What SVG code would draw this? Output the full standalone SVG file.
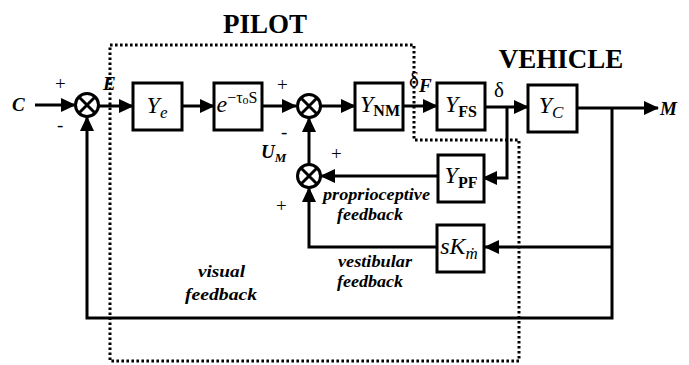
<svg xmlns="http://www.w3.org/2000/svg" width="689" height="365" viewBox="0 0 689 365" font-family="'Liberation Serif', 'Times New Roman', serif">
<style>
.box{fill:#fff;stroke:#000;stroke-width:3}
.ln{fill:none;stroke:#000;stroke-width:3}
.arr{fill:none;stroke:#000;stroke-width:3;marker-end:url(#ah)}
.sum{fill:#fff;stroke:#000;stroke-width:3}
.dot{fill:none;stroke:#000;stroke-width:3;stroke-dasharray:2.6 2.4}
.t{font-size:27px;font-weight:bold}
.lab{font-size:19px;font-style:italic;font-weight:bold}
.pm{font-size:19px}
.bl{font-size:24px;font-style:italic}
.sub{font-size:16px;font-weight:bold;font-style:normal}
.subi{font-size:17px;font-style:italic}
.note{font-size:16px;font-style:italic;font-weight:bold}
</style>
<defs>
<marker id="ah" markerUnits="userSpaceOnUse" markerWidth="15" markerHeight="14" refX="14" refY="7" orient="auto">
<path d="M0,0 L15,7 L0,14 z" fill="#000"/>
</marker>
</defs>

<g id="pilot-boundary">
<path class="dot" d="M110,45 H414 V140 H519 V361 H110 Z"/>
<text class="t" x="265" y="33" text-anchor="middle">PILOT</text>
</g>
<text class="t" x="561" y="68" text-anchor="middle" id="vehicle-label">VEHICLE</text>

<g id="connectors">
<line class="arr" x1="35" y1="105" x2="75" y2="105"/>
<line class="arr" x1="99" y1="106" x2="133" y2="106"/>
<line class="arr" x1="182" y1="106" x2="214" y2="106"/>
<line class="arr" x1="262" y1="106" x2="296" y2="106"/>
<line class="arr" x1="320" y1="106" x2="355" y2="106"/>
<line class="arr" x1="403" y1="106" x2="437" y2="106"/>
<line class="arr" x1="485" y1="107" x2="528" y2="107"/>
<polyline class="arr" points="507,107 507,178 483,178"/>
<line class="arr" x1="577" y1="108" x2="658" y2="108"/>
<polyline class="arr" points="612,108 612,318 87,318 87,117"/>
<line class="arr" x1="612" y1="247" x2="485" y2="247"/>
<line class="arr" x1="438" y1="176" x2="321" y2="176"/>
<polyline class="arr" points="437,247 309,247 309,188"/>
<line class="arr" x1="309" y1="164" x2="309" y2="118"/>
</g>

<g id="sum1">
<circle class="sum" cx="87" cy="105" r="11.5"/>
<path class="ln" d="M79,97 L95,113 M95,97 L79,113" stroke-width="2.5"/>
</g>
<g id="sum2">
<circle class="sum" cx="309" cy="106" r="11.5"/>
<path class="ln" d="M301,98 L317,114 M317,98 L301,114" stroke-width="2.5"/>
</g>
<g id="sum3">
<circle class="sum" cx="309" cy="176" r="11.5"/>
<path class="ln" d="M301,168 L317,184 M317,168 L301,184" stroke-width="2.5"/>
</g>

<g id="Ye">
<rect class="box" x="133" y="83" width="49" height="47"/>
<text class="bl" x="157" y="113" text-anchor="middle">Y<tspan class="subi" dy="5">e</tspan></text>
</g>
<g id="delay">
<rect class="box" x="214" y="83" width="48" height="47"/>
<text x="237" y="112" text-anchor="middle"><tspan class="bl" font-size="23">e</tspan><tspan font-size="16" dy="-9">−τ</tspan><tspan font-size="12" dy="1">o</tspan><tspan font-size="16" dy="-1">S</tspan></text>
</g>
<g id="YNM">
<rect class="box" x="355" y="83" width="48" height="47"/>
<text class="bl" x="380" y="112" text-anchor="middle">Y<tspan class="sub" dy="4">NM</tspan></text>
</g>
<g id="YFS">
<rect class="box" x="437" y="83" width="48" height="47"/>
<text class="bl" x="461" y="112" text-anchor="middle">Y<tspan class="sub" dy="5">FS</tspan></text>
</g>
<g id="YC">
<rect class="box" x="528" y="85" width="49" height="47"/>
<text class="bl" x="551" y="113" text-anchor="middle">Y<tspan class="subi" dy="5">C</tspan></text>
</g>
<g id="YPF">
<rect class="box" x="438" y="155" width="46" height="47"/>
<text class="bl" x="461" y="183" text-anchor="middle">Y<tspan class="sub" dy="5">PF</tspan></text>
</g>
<g id="sK">
<rect class="box" x="437" y="225" width="47" height="47"/>
<text class="bl" x="459" y="254" text-anchor="middle" font-size="23">sK<tspan class="subi" dy="5">ṁ</tspan></text>
</g>

<g id="labels">
<text class="lab" x="12" y="111">C</text>
<text class="pm" x="55" y="90">+</text>
<text class="pm" x="57" y="131">-</text>
<text class="lab" x="103" y="90">E</text>
<text class="pm" x="277" y="91">+</text>
<text class="pm" x="281" y="138">-</text>
<text class="lab" x="261" y="158">U<tspan font-size="13" dy="4">M</tspan></text>
<text class="pm" x="331" y="160">+</text>
<text class="pm" x="276" y="212">+</text>
<text x="409" y="87" font-size="21">δ<tspan class="lab" font-size="14" dy="5">F</tspan></text>
<text x="494" y="97" font-size="21">δ</text>
<text class="lab" x="660" y="115">M</text>
<text class="note" x="323" y="200" textLength="107" lengthAdjust="spacingAndGlyphs">proprioceptive</text>
<text class="note" x="337" y="220" textLength="66" lengthAdjust="spacingAndGlyphs">feedback</text>
<text class="note" x="338" y="267" textLength="74" lengthAdjust="spacingAndGlyphs">vestibular</text>
<text class="note" x="337" y="287" textLength="66" lengthAdjust="spacingAndGlyphs">feedback</text>
<text class="note" x="198" y="277" textLength="47" lengthAdjust="spacingAndGlyphs">visual</text>
<text class="note" x="185" y="300" textLength="72" lengthAdjust="spacingAndGlyphs">feedback</text>
</g>
</svg>
